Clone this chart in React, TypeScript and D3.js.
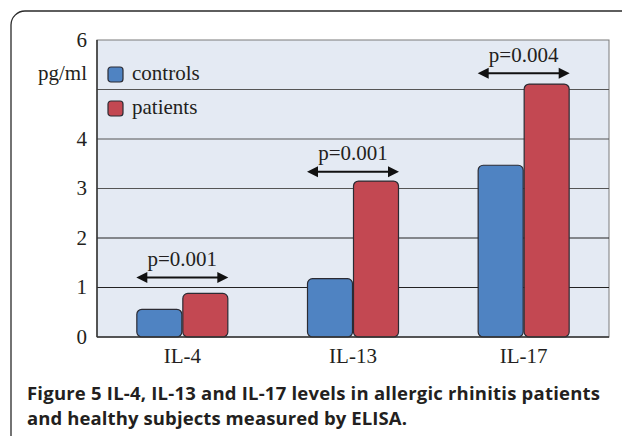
import React from 'react';
import * as d3 from 'd3';

const categories = ['IL-4', 'IL-13', 'IL-17'];
const groups = ['controls', 'patients'];
const controls = [0.56, 1.18, 3.47];
const patients = [0.88, 3.15, 5.11];
const pLabels = ['p=0.001', 'p=0.001', 'p=0.004'];
const pArrowAt = [1.2, 3.34, 5.33];
const yTicks = [0, 1, 2, 3, 4, 6];
const gridValues = [1, 2, 3, 4, 5];
const captionLines = [
  'Figure 5 IL-4, IL-13 and IL-17 levels in allergic rhinitis patients',
  'and healthy subjects measured by ELISA.',
];
const captionWidths = [573, 380];

const W = 622;
const H = 436;
const plot = { left: 97, right: 609, top: 40, bottom: 337 };
const colors: Record<string, string> = { controls: '#4f83c2', patients: '#c34852' };
const serif = '"Liberation Serif", "DejaVu Serif", serif';
const fs = 21;

const Arrow: React.FC<{ x1: number; x2: number; y: number }> = ({ x1, x2, y }) => {
  const h = 11;
  const hw = 5.5;
  return (
    <g>
      <line x1={x1 + h - 1} x2={x2 - h + 1} y1={y} y2={y} stroke="#111" strokeWidth={2} />
      <path d={`M${x1},${y} L${x1 + h},${y - hw} L${x1 + h},${y + hw} Z`} fill="#111" />
      <path d={`M${x2},${y} L${x2 - h},${y - hw} L${x2 - h},${y + hw} Z`} fill="#111" />
    </g>
  );
};

export default function App() {
  const x = d3.scaleBand().domain(categories).range([plot.left, plot.right]).padding(0);
  const y = d3.scaleLinear().domain([0, 6]).range([plot.bottom, plot.top]);
  const groupWidth = 92;
  const xInner = d3.scaleBand().domain(groups).range([0, groupWidth]).padding(0);

  const series: Record<string, number[]> = { controls, patients };

  return (
    <svg width={W} height={H} style={{ position: 'absolute', left: 0, top: 0, background: '#fff' }}>
      {/* outer frame */}
      <rect x={11} y={11} width={720} height={460} rx={14} fill="#fff" stroke="#2a2a2a" strokeWidth={1.3} />

      {/* plot background */}
      <rect x={plot.left} y={plot.top} width={plot.right - plot.left} height={plot.bottom - plot.top} fill="#e4eaf3" stroke="#7a7a7a" strokeWidth={1} />

      {gridValues.map((v) => (
        <line key={v} x1={plot.left} x2={plot.right} y1={y(v)} y2={y(v)} stroke={v <= 2 ? '#222' : '#555'} strokeWidth={1} />
      ))}

      {/* bars */}
      {categories.map((c, i) => {
        const gx = (x(c) || 0) + x.bandwidth() / 2 - groupWidth / 2;
        return groups.map((g) => {
          const v = series[g][i];
          const bx = gx + (xInner(g) || 0);
          const top = y(v);
          const w = xInner.bandwidth();
          return (
            <rect key={c + g} x={bx + 0.5} y={top} width={w - 1} height={y(0) - top} rx={5} fill={colors[g]} stroke="#2b2b33" strokeWidth={1.2} />
          );
        });
      })}

      {/* axes lines */}
      <line x1={plot.left} x2={plot.left} y1={plot.top} y2={plot.bottom} stroke="#333" strokeWidth={1.5} />
      <line x1={plot.left} x2={plot.right} y1={plot.bottom} y2={plot.bottom} stroke="#333" strokeWidth={1.5} />

      {/* y ticks */}
      {yTicks.map((t) => (
        <text key={t} x={87} y={y(t)} dy="0.33em" textAnchor="end" fontFamily={serif} fontSize={fs} fill="#231f20">
          {t}
        </text>
      ))}
      <text x={87} y={80} textAnchor="end" fontFamily={serif} fontSize={fs} fill="#231f20">pg/ml</text>

      {/* legend */}
      {groups.map((g, i) => (
        <g key={g} transform={`translate(108,${67 + i * 34})`}>
          <rect width={15} height={15} rx={3} fill={colors[g]} stroke="#2b2b33" strokeWidth={1.2} />
          <text x={24} y={12.5} fontFamily={serif} fontSize={fs} fill="#231f20">{g}</text>
        </g>
      ))}

      {/* p-value arrows */}
      {categories.map((c, i) => {
        const cx = (x(c) || 0) + x.bandwidth() / 2;
        const ay = y(pArrowAt[i]);
        return (
          <g key={c}>
            <Arrow x1={cx - groupWidth / 2} x2={cx + groupWidth / 2} y={ay} />
            <text x={cx} y={ay - 11.5} textAnchor="middle" fontFamily={serif} fontSize={fs} fill="#231f20">
              {pLabels[i]}
            </text>
          </g>
        );
      })}

      {/* x labels */}
      {categories.map((c) => (
        <text key={c} x={(x(c) || 0) + x.bandwidth() / 2} y={362.5} textAnchor="middle" fontFamily={serif} fontSize={fs} fill="#231f20">
          {c}
        </text>
      ))}

      {/* caption */}
      {captionLines.map((l, i) => (
        <text key={i} x={27} y={400 + i * 24.5} fontFamily='"Open Sans", sans-serif' fontWeight={700} fontSize={18.5}
          textLength={captionWidths[i]} lengthAdjust="spacing" fill="#231f20">
          {l}
        </text>
      ))}
    </svg>
  );
}
